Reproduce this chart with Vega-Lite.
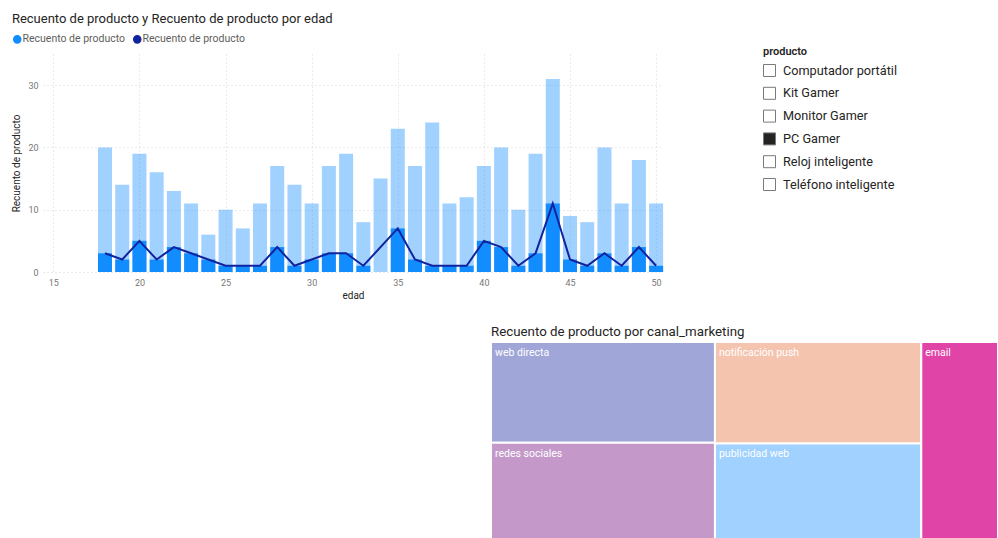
{
  "$schema": "https://vega.github.io/schema/vega-lite/v6.json",
  "background": "#ffffff",
  "padding": {"left": 11, "top": 13, "right": 0, "bottom": 0},
  "bounds": "flush",
  "spacing": 70,
  "resolve": {"scale": {"color": "independent", "fill": "independent"}, "legend": {"color": "independent", "fill": "independent"}},
  "config": {
    "view": {"stroke": null},
    "font": "Roboto",
    "axis": {"domain": false, "ticks": false, "labelColor": "#777777", "labelFontSize": 9, "titleColor": "#252423", "titleFontSize": 10, "titleFontWeight": "normal", "gridColor": "#D6D6D6", "gridDash": [1, 3], "gridWidth": 1},
    "title": {"fontSize": 13, "fontWeight": "normal", "color": "#252423", "anchor": "start"}
  },
  "vconcat": [
    {
      "width": 620,
      "height": 218,
      "title": {"text": "Recuento de producto y Recuento de producto por edad", "frame": "bounds", "offset": 8},
      "data": {"values": [
        {"edad": 18, "total": 20, "pc": 3},
        {"edad": 19, "total": 14, "pc": 2},
        {"edad": 20, "total": 19, "pc": 5},
        {"edad": 21, "total": 16, "pc": 2},
        {"edad": 22, "total": 13, "pc": 4},
        {"edad": 23, "total": 11, "pc": 3},
        {"edad": 24, "total": 6, "pc": 2},
        {"edad": 25, "total": 10, "pc": 1},
        {"edad": 26, "total": 7, "pc": 1},
        {"edad": 27, "total": 11, "pc": 1},
        {"edad": 28, "total": 17, "pc": 4},
        {"edad": 29, "total": 14, "pc": 1},
        {"edad": 30, "total": 11, "pc": 2},
        {"edad": 31, "total": 17, "pc": 3},
        {"edad": 32, "total": 19, "pc": 3},
        {"edad": 33, "total": 8, "pc": 1},
        {"edad": 34, "total": 15, "pc": null},
        {"edad": 35, "total": 23, "pc": 7},
        {"edad": 36, "total": 17, "pc": 2},
        {"edad": 37, "total": 24, "pc": 1},
        {"edad": 38, "total": 11, "pc": 1},
        {"edad": 39, "total": 12, "pc": 1},
        {"edad": 40, "total": 17, "pc": 5},
        {"edad": 41, "total": 20, "pc": 4},
        {"edad": 42, "total": 10, "pc": 1},
        {"edad": 43, "total": 19, "pc": 3},
        {"edad": 44, "total": 31, "pc": 11},
        {"edad": 45, "total": 9, "pc": 2},
        {"edad": 46, "total": 8, "pc": 1},
        {"edad": 47, "total": 20, "pc": 3},
        {"edad": 48, "total": 11, "pc": 1},
        {"edad": 49, "total": 18, "pc": 4},
        {"edad": 50, "total": 11, "pc": 1}
      ]},
      "layer": [
        {
          "mark": {"type": "bar", "size": 14, "opacity": 0.4},
          "encoding": {
            "x": {"field": "edad", "type": "quantitative", "title": "edad", "scale": {"domain": [14.4, 50.4], "nice": false, "zero": false, "padding": 0}, "axis": {"values": [15, 20, 25, 30, 35, 40, 45, 50], "labelPadding": 6, "titlePadding": 3}},
            "y": {"field": "total", "type": "quantitative", "title": "Recuento de producto", "scale": {"domain": [0, 35], "nice": false}, "axis": {"values": [0, 10, 20, 30], "labelPadding": 5, "titlePadding": 6}},
            "color": {"datum": "A", "scale": {"domain": ["A", "B"], "range": ["#118DFF", "#12239E"]}, "legend": {"orient": "none", "legendX": -31, "legendY": -20, "direction": "horizontal", "title": null, "symbolType": "circle", "symbolSize": 50, "symbolOpacity": 1, "labelFontSize": 10.5, "labelColor": "#605E5C", "labelOffset": 0, "columnPadding": 4, "labelExpr": "'Recuento de producto'"}}
          }
        },
        {
          "transform": [{"filter": "datum.pc != null"}],
          "mark": {"type": "bar", "size": 14},
          "encoding": {
            "x": {"field": "edad", "type": "quantitative", "title": "edad"},
            "y": {"field": "pc", "type": "quantitative", "title": "Recuento de producto"},
            "color": {"datum": "A"}
          }
        },
        {
          "transform": [{"filter": "datum.pc != null"}],
          "mark": {"type": "line", "strokeWidth": 2},
          "encoding": {
            "x": {"field": "edad", "type": "quantitative", "title": "edad"},
            "y": {"field": "pc", "type": "quantitative", "title": "Recuento de producto"},
            "color": {"datum": "B"}
          }
        },
        {
          "data": {"values": [
            {"producto": "Computador portátil"},
            {"producto": "Kit Gamer"},
            {"producto": "Monitor Gamer"},
            {"producto": "PC Gamer"},
            {"producto": "Reloj inteligente"},
            {"producto": "Teléfono inteligente"}
          ]},
          "mark": {"type": "square", "opacity": 0},
          "encoding": {
            "fill": {"field": "producto", "type": "nominal", "scale": {"domain": ["Computador portátil", "Kit Gamer", "Monitor Gamer", "PC Gamer", "Reloj inteligente", "Teléfono inteligente"], "range": ["#ffffff", "#ffffff", "#ffffff", "#252423", "#ffffff", "#ffffff"]}, "legend": {"orient": "none", "legendX": 720, "legendY": -8, "title": "producto", "titleFontSize": 11, "titleFontWeight": 600, "titleColor": "#252423", "titlePadding": 7, "symbolType": "square", "symbolSize": 144, "symbolStrokeColor": "#7A7A7A", "symbolStrokeWidth": 1, "symbolOpacity": 1, "labelFontSize": 12.7, "labelColor": "#252423", "labelOffset": 7, "rowPadding": 5.8}}
          }
        }
      ]
    },
    {
      "bounds": "flush",
      "spacing": 0,
      "hconcat": [
        {
          "width": 448,
          "height": 198,
          "data": {"values": []},
          "mark": {"type": "point", "opacity": 0}
        },
        {
          "width": 507,
          "height": 198,
          "title": {"text": "Recuento de producto por canal_marketing", "offset": 3, "frame": "group", "fontSize": 13.3},
          "data": {"values": [
            {"canal": "web directa", "n": 110},
            {"canal": "redes sociales", "n": 106},
            {"canal": "notificación push", "n": 102},
            {"canal": "publicidad web", "n": 97},
            {"canal": "email", "n": 74}
          ]},
          "transform": [
            {"window": [{"op": "row_number", "as": "rank"}], "sort": [{"field": "n", "order": "descending"}]},
            {"calculate": "floor((datum.rank - 1) / 2)", "as": "col"},
            {"window": [{"op": "sum", "field": "n", "as": "cum"}], "sort": [{"field": "rank"}], "frame": [null, 0]},
            {"joinaggregate": [{"op": "max", "field": "cum", "as": "x1"}, {"op": "sum", "field": "n", "as": "colTotal"}], "groupby": ["col"]},
            {"calculate": "datum.x1 - datum.colTotal", "as": "x0"},
            {"stack": "n", "groupby": ["col"], "sort": [{"field": "rank"}], "offset": "normalize", "as": ["y0", "y1"]}
          ],
          "layer": [
            {
              "mark": {"type": "rect", "stroke": "#ffffff", "strokeWidth": 2},
              "encoding": {
                "x": {"field": "x0", "type": "quantitative", "axis": null, "scale": {"nice": false, "zero": true, "padding": 0}},
                "x2": {"field": "x1"},
                "y": {"field": "y0", "type": "quantitative", "axis": null, "scale": {"domain": [0, 1], "reverse": true, "nice": false}},
                "y2": {"field": "y1"},
                "color": {"field": "canal", "type": "nominal", "legend": null, "scale": {"domain": ["web directa", "redes sociales", "notificación push", "publicidad web", "email"], "range": ["#A0A7D8", "#C499CA", "#F5C4AF", "#A0D1FF", "#E044A7"]}}
              }
            },
            {
              "mark": {"type": "text", "align": "left", "baseline": "top", "dx": 4, "dy": 6, "color": "#ffffff", "fontSize": 10.5},
              "encoding": {
                "x": {"field": "x0", "type": "quantitative"},
                "y": {"field": "y0", "type": "quantitative"},
                "text": {"field": "canal"}
              }
            }
          ]
        }
      ]
    }
  ]
}
